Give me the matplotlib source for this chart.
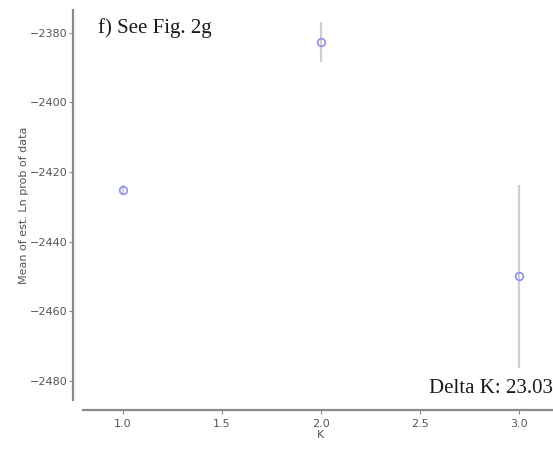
import matplotlib
matplotlib.use('Agg')
import matplotlib.pyplot as plt

# mean estimated Ln prob of data per K, with its spread across runs
k_values = [1.0, 2.0, 3.0]
mean_lnp = [-2425.1, -2382.6, -2450.0]
sd_lnp = [1.5, 5.8, 26.4]
panel_title = 'f) See Fig. 2g'
delta_k = 23.03

fig = plt.figure(figsize=(5.53, 4.53), dpi=100)
ax = fig.add_axes([0.1508, 0.117, 0.8593, 0.861])

ax.errorbar(k_values, mean_lnp, yerr=sd_lnp, fmt='o', ms=5.5, mfc='none',
            mec='#8f8fef', mew=1.2, ecolor='#cfcfcf', elinewidth=1.6, capsize=0)

ax.set_xlim(0.8, 3.2)
ax.set_ylim(-2485.55, -2373.4)
ax.set_xticks([1.0, 1.5, 2.0, 2.5, 3.0])
ax.set_yticks([-2380, -2400, -2420, -2440, -2460, -2480])

for side in ('top', 'right'):
    ax.spines[side].set_visible(False)
for side in ('left', 'bottom'):
    ax.spines[side].set_position(('outward', 7.2))
    ax.spines[side].set_color('#8a8a8a')
    ax.spines[side].set_linewidth(1.6)
ax.tick_params(colors='#8a8a8a', labelcolor='#555555', labelsize=8, length=3, width=0.8)
ax.tick_params(axis='y', pad=1)

ax.set_xlabel('K', fontsize=8, color='#555555', labelpad=1)
ax.set_ylabel('Mean of est. Ln prob of data', fontsize=8, color='#555555', labelpad=1)

fig.text(98 / 553, 1 - 33 / 453, panel_title, family='Liberation Serif', fontsize=15,
         color='#1a1a1a', ha='left', va='baseline')
fig.text(553 / 553, 1 - 393 / 453, f'Delta K: {delta_k:.2f}', family='Liberation Serif',
         fontsize=15, color='#1a1a1a', ha='right', va='baseline')

fig.savefig('out.png', dpi=100)
